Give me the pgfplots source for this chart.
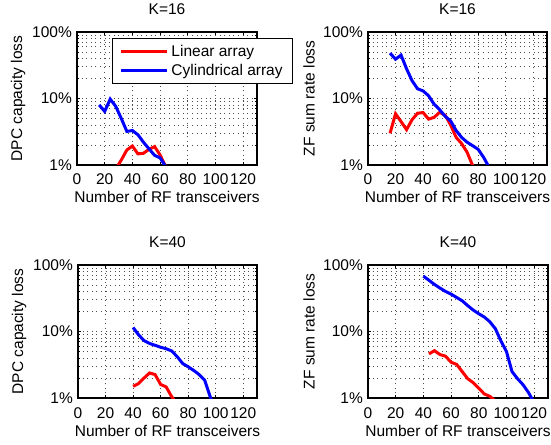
\documentclass[border=0pt]{standalone}
\usepackage{fontspec}
\setmainfont{Liberation Sans}
\usepackage{pgfplots}
\pgfplotsset{compat=1.18}
\usetikzlibrary{calc}

\pgfplotsset{
  lossax/.style={
    scale only axis, height=133bp,
    xmin=0, xmax=130, ymin=1, ymax=100,
    xtick={0,20,...,120}, ytick={1,10,100}, yticklabels={1\%,10\%,100\%},
    minor ytick={2,3,4,5,6,7,8,9,20,30,40,50,60,70,80,90},
    xmajorgrids, ymajorgrids, yminorgrids,
    grid style={black!70, line width=0.7bp, dash pattern=on 1bp off 3.6bp},
    axis line style={line width=1.2bp},
    tick align=inside, major tick length=3bp, minor tick length=1.8bp,
    tick style={black, line width=0.8bp},
    font=\fontsize{15.5bp}{18bp}\selectfont,
    /pgf/number format/assume math mode=true,
    xticklabel style={anchor=base, inner sep=0pt, yshift=-20bp},
    yticklabel style={anchor=east, inner sep=0pt, xshift=-5bp},
    title style={at={(0.5,1)}, anchor=base, yshift=12bp, inner sep=0pt},
    xlabel style={at={(0.5,0)}, anchor=base, yshift=-38bp, inner sep=0pt},
    ylabel style={at={($(rel axis cs:0,0.5)+(-59bp,0)$)}, anchor=center, inner sep=0pt},
    xlabel={Number of RF transceivers},
  },
}

\begin{document}
\begin{tikzpicture}
\useasboundingbox (0,0) rectangle (551bp,445bp);

% K=16, DPC
\begin{axis}[ymode=log, lossax, width=180bp, at={(77bp,280bp)}, anchor=south west,
  title={K=16}, ylabel={DPC capacity loss},
  legend cell align=left,
  legend style={at={(0.193,0.953)}, anchor=north west, draw=black, line width=1bp,
    inner xsep=7bp, inner ysep=3.25bp, row sep=0pt, column sep=0pt,
    nodes={inner xsep=2.85bp, inner ysep=3.25bp}},
  legend image code/.code={\draw[#1, line width=2.8bp] (0bp,0bp) -- (46.6bp,0bp);}]
\addplot[red, line width=3bp] coordinates {(28,0.87) (32,1.19) (36,1.68) (40,1.93) (44,1.47) (48,1.50)
  (52,1.72) (56,1.89) (60,1.42) (64,0.95)};
\addplot[blue, line width=3bp] coordinates {(16,8.0) (20,6.4) (24,9.8) (28,7.6) (32,5.0) (36,3.2) (40,3.3)
  (44,2.85) (48,2.2) (52,1.75) (56,1.4) (60,1.28) (64,0.95)};
\legend{Linear array, Cylindrical array}
\end{axis}

% K=16, ZF
\begin{axis}[ymode=log, lossax, width=179bp, at={(368bp,280bp)}, anchor=south west,
  title={K=16}, ylabel={ZF sum rate loss}]
\addplot[red, line width=3bp] coordinates {(16,3.0) (20,5.9) (24,4.5) (28,3.4) (32,4.8) (36,6.0) (40,6.15)
  (44,4.9) (48,5.2) (52,6.2) (56,5.6) (60,4.0) (64,2.6) (68,2.1) (72,1.55) (76,0.98)};
\addplot[blue, line width=3bp] coordinates {(16,48) (20,39) (24,45) (28,28) (32,18.5) (36,14) (40,13)
  (44,11) (48,8.2) (52,6.8) (56,5.4) (60,4.6) (64,3.3) (68,2.6) (72,2.2) (76,1.95)
  (80,1.72) (84,1.3) (88,0.92)};
\end{axis}

% K=40, DPC
\begin{axis}[ymode=log, lossax, width=179bp, at={(78bp,47bp)}, anchor=south west,
  title={K=40}, ylabel={DPC capacity loss}]
\addplot[red, line width=3bp] coordinates {(40,1.5) (44,1.65) (48,2.0) (52,2.38) (56,2.25) (60,1.6)
  (64,1.47) (68,1.05) (72,0.8)};
\addplot[blue, line width=3bp] coordinates {(40,11.5) (44,8.9) (48,7.3) (52,6.6) (56,6.2) (60,5.8) (64,5.5)
  (68,5.1) (72,4.2) (76,3.3) (80,2.95) (84,2.6) (88,2.25) (92,1.85) (96,1.05) (100,0.6)};
\end{axis}

% K=40, ZF
\begin{axis}[ymode=log, lossax, width=180bp, at={(368bp,47bp)}, anchor=south west,
  title={K=40}, ylabel={ZF sum rate loss}]
\addplot[red, line width=3bp] coordinates {(44,4.6) (48,5.15) (52,4.5) (56,4.25) (60,3.45) (64,3.2) (68,2.5)
  (72,1.95) (76,1.7) (80,1.4) (84,1.15) (88,1.06) (92,0.9)};
\addplot[blue, line width=3bp] coordinates {(40,68) (44,59) (48,51) (52,45) (56,40) (60,36.5) (64,32.5)
  (68,29) (72,24.5) (76,21) (80,18.5) (84,16.5) (88,14) (92,11) (96,7.2) (100,5.0)
  (104,2.5) (108,1.95) (112,1.58) (116,1.2) (120,0.85)};
\end{axis}
\end{tikzpicture}
\end{document}
